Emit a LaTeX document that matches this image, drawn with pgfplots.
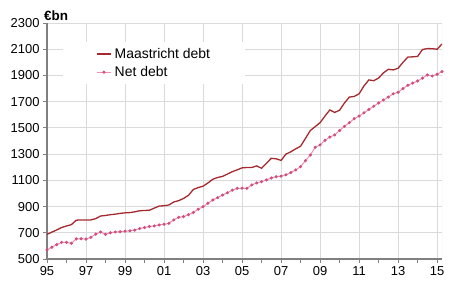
\documentclass[border=0pt]{standalone}
\usepackage{fontspec}
\setmainfont{Liberation Sans}
\usepackage{pgfplots}
\pgfplotsset{compat=1.18}
\definecolor{maas}{RGB}{165,42,48}
\definecolor{netd}{RGB}{245,140,180}
\definecolor{netm}{RGB}{205,80,125}
\definecolor{gridc}{RGB}{218,218,218}
\definecolor{axc}{RGB}{128,128,128}
\begin{document}
\begin{tikzpicture}
\begin{axis}[
 name=ax,
 scale only axis, width=395bp, height=236bp,
 xmin=1995, xmax=2015.25, ymin=500, ymax=2300,
 axis lines*=left, axis line style={axc, line width=1.2bp},
 xtick={1995,1997,...,2015},
 xticklabels={95,97,99,01,03,05,07,09,11,13,15},
 minor xtick={1996,1998,...,2014},
 ytick={500,700,...,2300},
 grid=major, major grid style={gridc, line width=0.8bp},
 tick style={axc, line width=0.8bp}, tick align=outside,
 major tick length=4bp, minor tick length=4bp,
 ticklabel style={font=\fontsize{13}{15}\selectfont},
 /pgf/number format/assume math mode=true,
 /pgf/number format/1000 sep={},
 legend style={at={(rel axis cs:0.0405,0.919)}, anchor=north west, draw=none, fill=white,
   font=\fontsize{14}{16}\selectfont, inner xsep=33bp, inner ysep=4bp, row sep=2.5bp,
   /tikz/every odd column/.append style={column sep=1bp}},
 legend cell align=left,
]
\addplot[maas, line width=1.3bp, mark=none,
  legend image code/.code={\draw[maas, line width=1.5bp] (0bp,0bp) -- (14bp,0bp);}]
 table[x=x,y=y]{
x y
1995.00 688
1995.25 705
1995.50 722
1995.75 740
1996.00 752
1996.25 762
1996.50 796
1996.75 798
1997.00 798
1997.25 798
1997.50 808
1997.75 828
1998.00 832
1998.25 838
1998.50 842
1998.75 848
1999.00 852
1999.25 854
1999.50 860
1999.75 868
2000.00 870
2000.25 872
2000.50 888
2000.75 904
2001.00 906
2001.25 912
2001.50 935
2001.75 945
2002.00 962
2002.25 985
2002.50 1030
2002.75 1045
2003.00 1055
2003.25 1080
2003.50 1108
2003.75 1122
2004.00 1130
2004.25 1148
2004.50 1166
2004.75 1180
2005.00 1195
2005.25 1198
2005.50 1198
2005.75 1210
2006.00 1192
2006.25 1230
2006.50 1268
2006.75 1264
2007.00 1252
2007.25 1300
2007.50 1318
2007.75 1340
2008.00 1360
2008.25 1420
2008.50 1480
2008.75 1510
2009.00 1540
2009.25 1590
2009.50 1637
2009.75 1618
2010.00 1635
2010.25 1690
2010.50 1735
2010.75 1740
2011.00 1760
2011.25 1820
2011.50 1866
2011.75 1860
2012.00 1880
2012.25 1920
2012.50 1947
2012.75 1942
2013.00 1955
2013.25 2000
2013.50 2040
2013.75 2042
2014.00 2045
2014.25 2098
2014.50 2105
2014.75 2104
2015.00 2100
2015.25 2140
};
\addlegendentry{Maastricht debt}
\addplot[netd, line width=1bp, mark=*, mark size=1bp, mark options={fill=netm, draw=netm},
  legend image code/.code={\draw[netd, line width=1bp] (0bp,0bp) -- (14bp,0bp); \fill[netm] (7bp,0bp) circle (1bp);}]
 table[x=x,y=y]{
x y
1995.00 569
1995.25 590
1995.50 610
1995.75 627
1996.00 627
1996.25 620
1996.50 653
1996.75 655
1997.00 652
1997.25 665
1997.50 690
1997.75 706
1998.00 688
1998.25 700
1998.50 706
1998.75 708
1999.00 712
1999.25 715
1999.50 720
1999.75 732
2000.00 740
2000.25 748
2000.50 752
2000.75 760
2001.00 765
2001.25 772
2001.50 798
2001.75 818
2002.00 823
2002.25 838
2002.50 855
2002.75 880
2003.00 899
2003.25 925
2003.50 950
2003.75 968
2004.00 988
2004.25 1005
2004.50 1025
2004.75 1039
2005.00 1040
2005.25 1039
2005.50 1065
2005.75 1080
2006.00 1090
2006.25 1103
2006.50 1118
2006.75 1128
2007.00 1132
2007.25 1142
2007.50 1160
2007.75 1179
2008.00 1204
2008.25 1250
2008.50 1293
2008.75 1352
2009.00 1370
2009.25 1405
2009.50 1430
2009.75 1446
2010.00 1480
2010.25 1512
2010.50 1540
2010.75 1570
2011.00 1590
2011.25 1615
2011.50 1640
2011.75 1665
2012.00 1690
2012.25 1713
2012.50 1735
2012.75 1760
2013.00 1772
2013.25 1800
2013.50 1825
2013.75 1842
2014.00 1858
2014.25 1880
2014.50 1904
2014.75 1896
2015.00 1909
2015.25 1929
};
\addlegendentry{Net debt}
\draw[gridc, line width=0.8bp] (rel axis cs:1,0) -- (rel axis cs:1,1);
\end{axis}
\node[anchor=base west, font=\bfseries\fontsize{13.5}{15}\selectfont, inner sep=0pt]
  at ([xshift=-3bp,yshift=2.5bp]ax.north west) {€bn};
\pgfresetboundingbox
\path ([xshift=-47bp,yshift=-32bp]ax.south west) rectangle ([xshift=8bp,yshift=23bp]ax.north east);
\end{tikzpicture}
\end{document}
